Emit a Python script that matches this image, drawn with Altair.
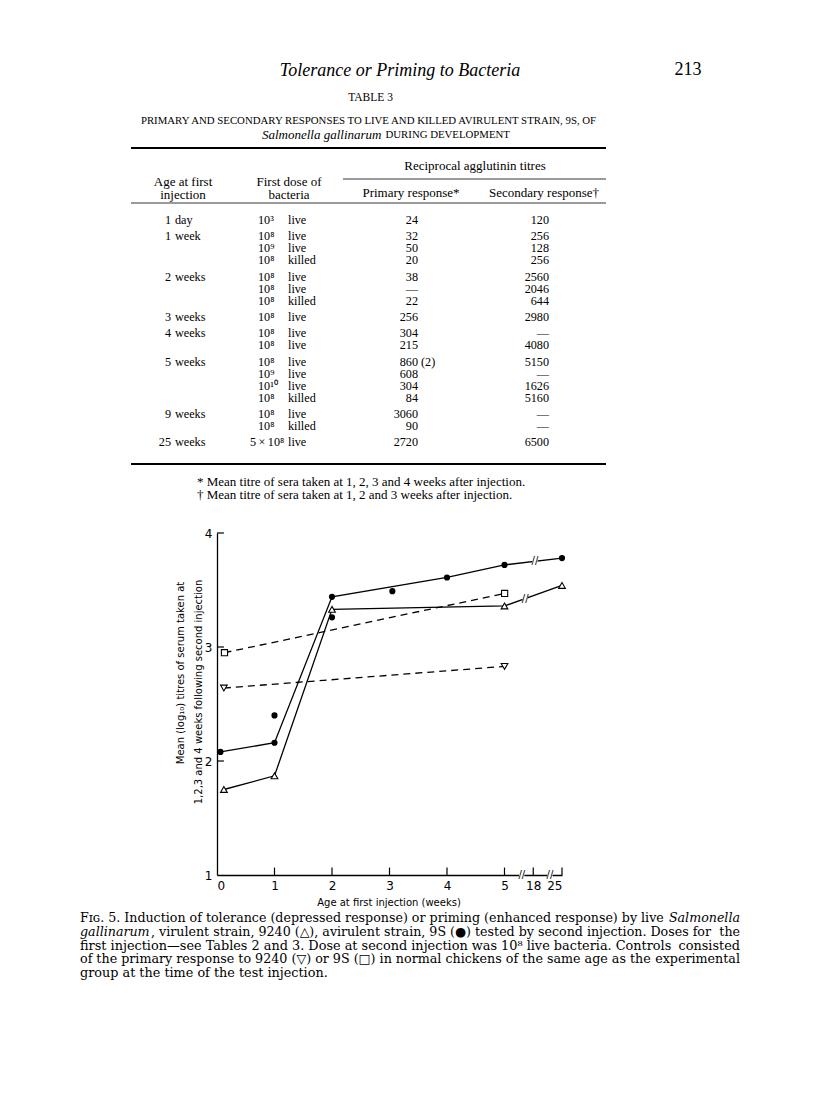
import altair as alt
import pandas as pd

# ---------------- Fig. 5 data (age at first injection in weeks, mean log10 titre) ----------------
virulent_weeks = [0.12, 1, 2, 5, 25]
virulent_titre = [1.75, 1.87, 3.33, 3.36, 3.54]
avirulent_weeks = [0.06, 1, 2, 4, 5, 25]
avirulent_titre = [2.08, 2.16, 3.44, 3.61, 3.72, 3.78]
avirulent_extra_weeks = [1, 2, 3.05]
avirulent_extra_titre = [2.40, 3.26, 3.49]
control_9240_weeks = [0.12, 5]
control_9240_titre = [2.64, 2.83]
control_9s_weeks = [0.13, 5.05]
control_9s_titre = [2.95, 3.47]
x_tick_weeks = [0, 1, 2, 3, 4, 5, 18, 25]
y_tick_values = [1, 2, 3, 4]

# ---------------- Table 3 data ----------------
age_num = ["1", "1", "", "", "2", "", "", "3", "4", "", "5", "", "", "", "9", "", "25"]
age_unit = ["day", "week", "", "", "weeks", "", "", "weeks", "weeks", "", "weeks", "", "", "", "weeks", "", "weeks"]
dose = ["10³", "10⁸", "10⁹", "10⁸", "10⁸", "10⁸", "10⁸", "10⁸", "10⁸", "10⁸", "10⁸", "10⁹", "10¹⁰", "10⁸",
        "10⁸", "10⁸", "5\u2009×\u200910⁸"]
kind = ["live", "live", "live", "killed", "live", "live", "killed", "live", "live", "live", "live", "live", "live",
        "killed", "live", "killed", "live"]
primary = ["24", "32", "50", "20", "38", "—", "22", "256", "304", "215", "860", "608", "304", "84", "3060", "90", "2720"]
primary_note = ["", "", "", "", "", "", "", "", "", "", "(2)", "", "", "", "", "", ""]
secondary = ["120", "256", "128", "256", "2560", "2046", "644", "2980", "—", "4080", "5150", "—", "1626", "5160",
             "—", "—", "6500"]
row_group = [0, 1, 1, 1, 2, 2, 2, 3, 4, 4, 5, 5, 5, 5, 6, 6, 7]

# caption: left part and right-aligned last word of each justified line
caption_left = [
    "Fɪɢ. 5. Induction of tolerance (depressed response) or priming (enhanced response) by live",
    ", virulent strain, 9240 (△), avirulent strain, 9S (●) tested by second injection. Doses for",
    "first injection—see Tables 2 and 3. Dose at second injection was 10⁸ live bacteria. Controls",
    "of the primary response to 9240 (▽) or 9S (□) in normal chickens of the same age as the",
    "group at the time of the test injection.",
]
caption_right = ["Salmonella", "the", "consisted", "experimental", ""]
caption_italic_start = ["", "gallinarum", "", "", ""]

# ---------------- layout ----------------
OX, OY = 217, 533          # page position of the plot origin
W, H = 345, 342            # plot area
SERIF = "Liberation Serif"
CAP = "DejaVu Serif"
SANS = "DejaVu Sans"
TFS = 12.2                 # table body font size
HFS = 13                   # table header font size

POS = ("datum.week <= 5 ? datum.week : (datum.week <= 18 ? 5 + (datum.week - 5) / 26 "
       ": 5.5 + (datum.week - 18) / 14)")

xscale = alt.Scale(domain=[0, 6], nice=False, zero=False)
yscale = alt.Scale(domain=[1, 4], nice=False, zero=False)


def series(weeks, titre):
    return pd.DataFrame({"week": weeks, "titre": titre})


def base(df):
    return alt.Chart(df).transform_calculate(pos=POS)


X = alt.X("pos:Q", scale=xscale,
          axis=alt.Axis(values=[0, 1, 2, 3, 4, 5, 5.5, 6], ticks=False, grid=False, title=None,
                        labelExpr="datum.value == 5.5 ? '18' : (datum.value == 6 ? '25' : datum.label)",
                        labelFont=SANS, labelFontSize=12, labelColor="black", labelPadding=5,
                        domainColor="black", domainWidth=1.3))
Y = alt.Y("titre:Q", scale=yscale,
          axis=alt.Axis(values=y_tick_values, ticks=False, grid=False, title=None, labelFont=SANS,
                        labelFontSize=12, labelColor="black", labelPadding=5, domainColor="black",
                        domainWidth=1.3))

vir = series(virulent_weeks, virulent_titre)
avir = series(avirulent_weeks, avirulent_titre)
avir_x = series(avirulent_extra_weeks, avirulent_extra_titre)
c9240 = series(control_9240_weeks, control_9240_titre)
c9s = series(control_9s_weeks, control_9s_titre)

lw = 1.3
line_vir = base(vir).mark_line(color="black", strokeWidth=lw).encode(x=X, y=Y)
line_avir = base(avir).mark_line(color="black", strokeWidth=lw).encode(x=X, y=Y)
line_c9240 = base(c9240).mark_line(color="black", strokeWidth=lw, strokeDash=[7, 5]).encode(x=X, y=Y)
line_c9s = base(c9s).mark_line(color="black", strokeWidth=lw, strokeDash=[7, 5]).encode(x=X, y=Y)

pt_vir = base(vir).mark_point(shape="triangle-up", size=45, filled=True, fill="white", stroke="black",
                              strokeWidth=1.1, opacity=1).encode(x=X, y=Y)
pt_avir = base(avir).mark_point(shape="circle", size=38, filled=True, color="black", opacity=1).encode(x=X, y=Y)
pt_avir_x = base(avir_x).mark_point(shape="circle", size=38, filled=True, color="black", opacity=1).encode(x=X, y=Y)
pt_c9240 = base(c9240).mark_point(shape="triangle-down", size=45, filled=True, fill="white", stroke="black",
                                  strokeWidth=1.1, opacity=1).encode(x=X, y=Y)
pt_c9s = base(c9s).mark_point(shape="square", size=38, filled=True, fill="white", stroke="black",
                              strokeWidth=1.1, opacity=1).encode(x=X, y=Y)

# inward tick marks
xt = base(series([w for w in x_tick_weeks if w > 0], [1] * 7)).transform_calculate(top="1.065")
x_ticks = xt.mark_rule(color="black", strokeWidth=1.2).encode(x=X, y=Y, y2="top:Q")
yt = alt.Chart(pd.DataFrame({"titre": [v for v in y_tick_values if v > 1]})).transform_calculate(
    pos="0", right="0.12")
y_ticks = yt.mark_rule(color="black", strokeWidth=1.2).encode(x=X, x2="right:Q", y=Y)

# axis / line breaks
brk = pd.DataFrame({"week": [5.3, 5.79, 5.53, 5.36], "titre": [1.0, 1.0, 3.752, 3.425]})
brk_pos = "datum.week"
brk_bg = alt.Chart(brk).transform_calculate(pos=brk_pos).mark_point(
    shape="square", size=28, filled=True, color="white", opacity=1).encode(x=X, y=Y)
brk_txt = alt.Chart(brk).transform_calculate(pos=brk_pos).mark_text(
    text="//", font=SANS, fontSize=10, color="black").encode(x=X, y=Y)


# ---------------- page text helpers (positions given in page pixels) ----------------
def page_text(rows, **kw):
    df = pd.DataFrame(rows, columns=["t", "x", "y"])
    df["px"] = df["x"] - OX
    df["py"] = df["y"] - OY
    return alt.Chart(df).mark_text(color="black", baseline="middle", **kw).encode(
        x=alt.X("px:Q", scale=None, axis=None), y=alt.Y("py:Q", scale=None, axis=None), text="t:N")


def page_rule(rows, width):
    df = pd.DataFrame(rows, columns=["x1", "x2", "y"])
    df["px1"] = df["x1"] - OX
    df["px2"] = df["x2"] - OX
    df["py"] = df["y"] - OY
    return alt.Chart(df).mark_rule(color="black", strokeWidth=width).encode(
        x=alt.X("px1:Q", scale=None, axis=None), x2="px2:Q", y=alt.Y("py:Q", scale=None, axis=None))


TL, TR = 131, 606   # table rule extent
TC = (TL + TR) / 2  # table centre
CL, CR = 80, 740    # caption extent
cap_y = [918, 932, 945.5, 959, 972.5]
cap_fs = [12.65, 12.65, 12.85, 12.7, 12.8]  # per-line size so each justified line fills its measure
ital_w = [0, 71, 0, 0, 0]                   # width taken by the italic word that opens a line

layers_text = [
    page_text([["Tolerance or Priming to Bacteria", 400, 71]], font=SERIF, fontSize=18, fontStyle="italic"),
    page_text([["213", 688, 70]], font=SERIF, fontSize=18),
    page_text([["TABLE 3", TC + 2, 98]], font=SERIF, fontSize=11.5),
    page_text([["PRIMARY AND SECONDARY RESPONSES TO LIVE AND KILLED AVIRULENT STRAIN, 9S, OF", TC, 121]],
              font=SERIF, fontSize=10.8),
    page_text([["Salmonella gallinarum", TC + 13, 135]], font=SERIF, fontSize=13, fontStyle="italic",
              align="right"),
    page_text([["DURING DEVELOPMENT", TC + 17, 135]], font=SERIF, fontSize=10.8, align="left"),
    page_rule([[TL, TR, 148], [TL, TR, 464]], 2),
    page_rule([[343, TR, 179], [TL, TR, 203]], 0.8),
    page_text([["Reciprocal agglutinin titres", 475, 166], ["Age at first", 183, 182], ["injection", 183, 195],
               ["First dose of", 289, 182], ["bacteria", 289, 195], ["Primary response*", 411, 193],
               ["Secondary response†", 544, 193]], font=SERIF, fontSize=HFS),
    page_text([["* Mean titre of sera taken at 1, 2, 3 and 4 weeks after injection.", 197, 482],
               ["† Mean titre of sera taken at 1, 2 and 3 weeks after injection.", 197, 495]],
              font=SERIF, fontSize=HFS, align="left"),
    # axis titles of the figure
    page_text([["Mean (log₁₀) titres of serum taken at", 181, 673]], font=SANS, fontSize=10, angle=270),
    page_text([["1,2,3  and  4  weeks  following  second  injection", 199, 692]], font=SANS, fontSize=10,
              angle=270),
    page_text([["Age  at  first  injection  (weeks)", 389, 903]], font=SANS, fontSize=10),
]

# caption, one line at a time
for i in range(5):
    fs = cap_fs[i]
    layers_text.append(page_text([[caption_left[i], CL + ital_w[i], cap_y[i]]], font=CAP, fontSize=fs,
                                 align="left"))
    if caption_italic_start[i]:
        layers_text.append(page_text([[caption_italic_start[i], CL, cap_y[i]]], font=CAP, fontSize=fs,
                                     fontStyle="italic", align="left"))
    if caption_right[i]:
        layers_text.append(page_text([[caption_right[i], CR, cap_y[i]]], font=CAP, fontSize=fs,
                                     fontStyle="italic" if i == 0 else "normal", align="right"))

# table body
row_y = [220 + i * 12.05 + g * 4.2 for i, g in enumerate(row_group)]
tbl = pd.DataFrame({"age_num": age_num, "age_unit": age_unit, "dose": dose, "kind": kind, "primary": primary,
                    "note": primary_note, "secondary": secondary, "y": row_y})
tbl["py"] = tbl["y"] - OY


def col(field, xpage, align):
    return alt.Chart(tbl).transform_calculate(px=str(xpage - OX)).mark_text(
        font=SERIF, fontSize=TFS, color="black", baseline="middle", align=align).encode(
        x=alt.X("px:Q", scale=None, axis=None), y=alt.Y("py:Q", scale=None, axis=None), text=f"{field}:N")


dose_col = alt.Chart(tbl).transform_calculate(
    px=f"(indexof(datum.dose, '×') >= 0 ? 250 : 258) - {OX}").mark_text(
    font=SERIF, fontSize=TFS, color="black", baseline="middle", align="left").encode(
    x=alt.X("px:Q", scale=None, axis=None), y=alt.Y("py:Q", scale=None, axis=None), text="dose:N")

table_layers = [col("age_num", 171, "right"), col("age_unit", 175, "left"), dose_col, col("kind", 288, "left"),
                col("primary", 418, "right"), col("note", 421, "left"), col("secondary", 549, "right")]

chart = alt.layer(
    line_c9s, line_c9240, line_avir, line_vir, x_ticks, y_ticks, brk_bg, brk_txt,
    pt_c9s, pt_c9240, pt_avir, pt_avir_x, pt_vir,
    *layers_text, *table_layers
).properties(
    width=W, height=H, background="white",
    autosize=alt.AutoSizeParams(type="none"),
    padding={"left": OX - 8, "top": OY - 8, "right": 800 - (OX - 8) - W, "bottom": 1083 - (OY - 8) - H},
).configure_view(stroke=None)

chart.save("out.html", embed_options={"renderer": "svg", "actions": False})
